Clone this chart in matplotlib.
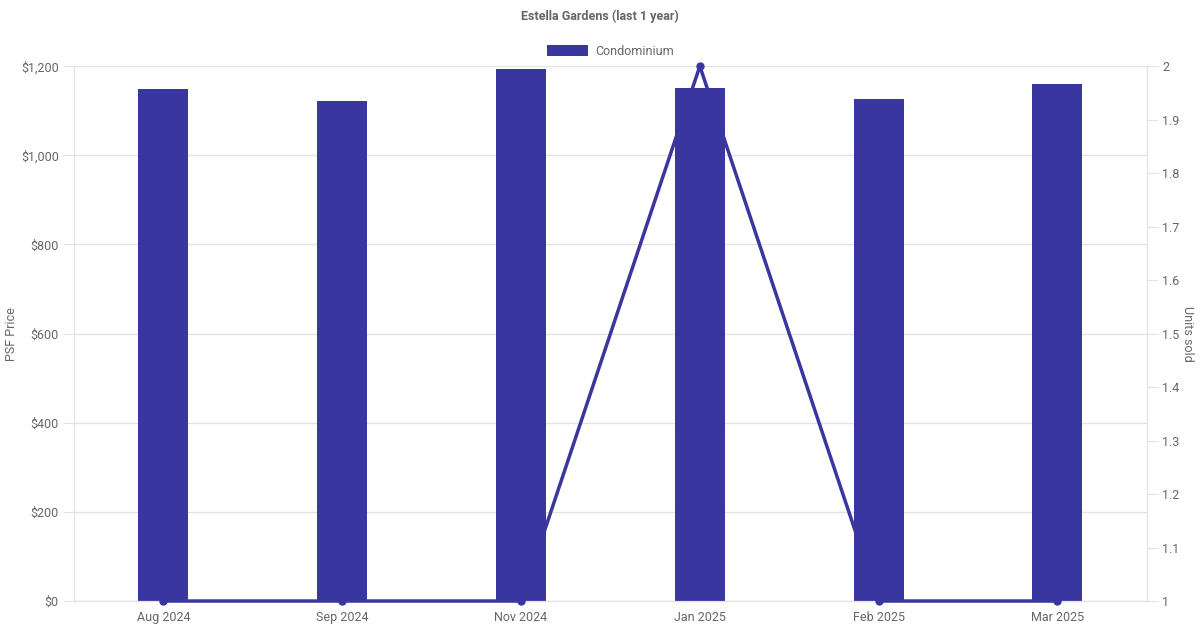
import matplotlib
matplotlib.use("Agg")
import matplotlib.pyplot as plt
from matplotlib.ticker import FuncFormatter, MultipleLocator

months = ["Aug 2024", "Sep 2024", "Nov 2024", "Jan 2025", "Feb 2025", "Mar 2025"]
psf_price = [1148, 1121, 1193, 1151, 1126, 1160]
units_sold = [1, 1, 1, 2, 1, 1]

color = "#3a36a0"
grid_col = "#e3e3e3"
text_col = "#666666"

plt.rcParams["font.family"] = ["Roboto", "DejaVu Sans"]

fig = plt.figure(figsize=(12, 6.3), dpi=100)
ax = fig.add_axes([0.0617, 0.046, 0.894, 0.849])
ax2 = ax.twinx()

x = list(range(len(months)))
ax.bar(x, psf_price, width=0.28, color=color, zorder=2, label="Condominium")
ax.set_xlim(-0.5, len(months) - 0.5)
ax.set_ylim(0, 1200)
ax.yaxis.set_major_locator(MultipleLocator(200))
ax.yaxis.set_major_formatter(FuncFormatter(lambda v, p: f"${v:,.0f}"))
ax.set_xticks(x)
ax.set_xticklabels(months)
ax.grid(axis="y", color=grid_col, linewidth=1, zorder=0)
ax.set_ylabel("PSF Price", color=text_col, fontsize=9)
ax.yaxis.set_label_coords(-0.052, 0.5)

ax2.plot(x, units_sold, color=color, linewidth=2.5, marker="o", markersize=5, zorder=5, clip_on=False)
ax2.set_ylim(1, 2)
ax2.yaxis.set_major_locator(MultipleLocator(0.1))
ax2.yaxis.set_major_formatter(FuncFormatter(lambda v, p: f"{v:g}"))
ax2.set_ylabel("Units sold", color=text_col, fontsize=9, rotation=270, va="center")
ax2.yaxis.set_label_coords(1.0375, 0.5)

# bring the line above the bars
ax2.set_zorder(ax.get_zorder() + 1)
ax2.patch.set_visible(False)

for a in (ax, ax2):
    for s in a.spines.values():
        s.set_color(grid_col)
    a.tick_params(colors=grid_col, labelcolor=text_col, labelsize=9, length=8, pad=3)
ax.spines["top"].set_visible(False)
ax2.spines["top"].set_visible(False)
ax.tick_params(axis="x", length=0, pad=7)

fig.suptitle("Estella Gardens (last 1 year)", x=0.5, y=0.985, fontsize=9,
             fontweight="bold", color=text_col)
ax.legend(loc="lower center", bbox_to_anchor=(0.5, 1.0), frameon=False, fontsize=9,
          labelcolor=text_col, handlelength=3.3, handleheight=1.0, handletextpad=0.6,
          borderaxespad=0.25)

fig.savefig("out.png", dpi=100)
